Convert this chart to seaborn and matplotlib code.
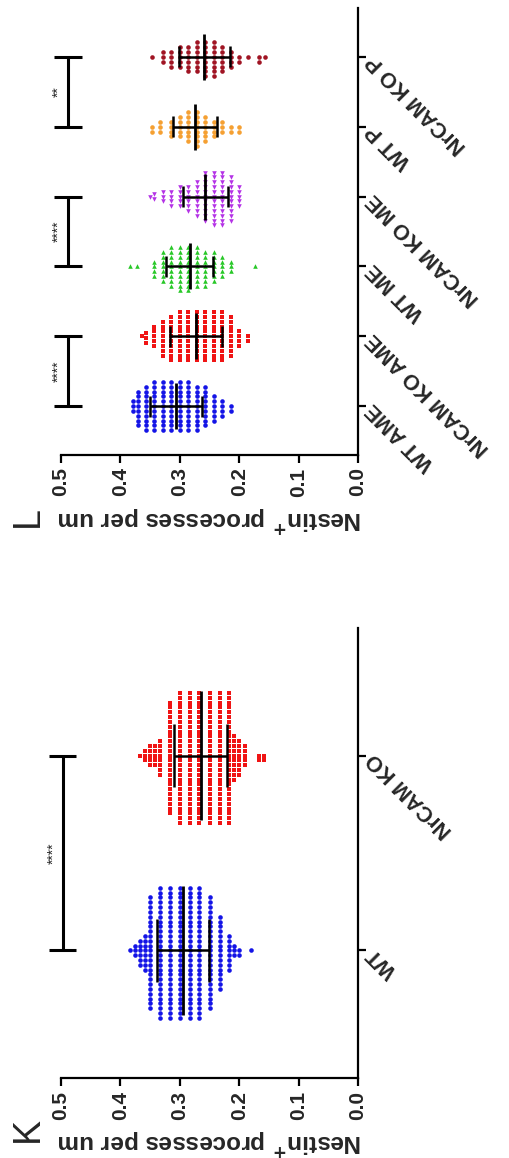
import numpy as np
import pandas as pd
import matplotlib
matplotlib.use("Agg")
import matplotlib.pyplot as plt
import seaborn as sns

# ---------------- data ----------------
# Panel K: Nestin+ processes per um, WT vs NrCAM KO (value levels and how many cells share each)
k_groups = ["WT", "NrCAM KO"]
k_wt_values = [0.383, 0.375, 0.367, 0.358, 0.350, 0.333, 0.317, 0.300, 0.283, 0.267,
               0.250, 0.233, 0.217, 0.208, 0.200, 0.180]
k_wt_counts = [1, 3, 6, 8, 24, 28, 28, 28, 28, 28, 24, 16, 8, 3, 2, 1]
k_ko_values = [0.367, 0.358, 0.350, 0.342, 0.333, 0.317, 0.300, 0.283, 0.267, 0.250,
               0.233, 0.217, 0.208, 0.200, 0.190, 0.167, 0.158]
k_ko_counts = [1, 3, 5, 5, 8, 24, 28, 28, 28, 28, 28, 28, 10, 8, 5, 2, 2]
k_stars = ["****"]

# Panel L: split by region (AME / ME / P)
l_groups = ["WT AME", "NrCAM KO AME", "WT ME", "NrCAM KO ME", "WT P", "NrCAM KO P"]
wt_ame_values = [0.379, 0.371, 0.357, 0.343, 0.329, 0.314, 0.300, 0.286, 0.271, 0.257,
                 0.243, 0.229, 0.214]
wt_ame_counts = [3, 8, 10, 11, 11, 11, 11, 11, 10, 9, 6, 4, 2]
ko_ame_values = [0.364, 0.357, 0.343, 0.329, 0.314, 0.300, 0.286, 0.271, 0.257, 0.243,
                 0.229, 0.214, 0.200, 0.186]
ko_ame_counts = [1, 3, 5, 8, 10, 11, 11, 11, 11, 11, 11, 9, 4, 2]
wt_me_values = [0.384, 0.372, 0.343, 0.329, 0.314, 0.300, 0.286, 0.271, 0.257, 0.243,
                0.229, 0.214, 0.173]
wt_me_counts = [1, 1, 4, 7, 9, 10, 10, 9, 8, 7, 5, 3, 1]
ko_me_values = [0.350, 0.343, 0.329, 0.314, 0.300, 0.286, 0.271, 0.257, 0.243, 0.229,
                0.214, 0.200]
ko_me_counts = [1, 2, 3, 4, 5, 6, 8, 11, 12, 12, 10, 5]
wt_p_values = [0.347, 0.333, 0.314, 0.300, 0.286, 0.271, 0.257, 0.243, 0.229, 0.214, 0.200]
wt_p_counts = [2, 3, 4, 5, 7, 8, 6, 4, 3, 2, 2]
ko_p_values = [0.347, 0.329, 0.314, 0.300, 0.286, 0.271, 0.257, 0.243, 0.229, 0.214,
               0.200, 0.186, 0.167, 0.157]
ko_p_counts = [1, 3, 4, 5, 6, 7, 8, 8, 6, 4, 2, 1, 2, 1]
l_stars = ["****", "****", "**"]

value_ticks = [0.0, 0.1, 0.2, 0.3, 0.4, 0.5]
value_label = "Nestin$^{\\mathbf{+}}$ processes per um"


def expand(group, values, counts):
    return pd.DataFrame({"group": group, "value": np.repeat(values, counts)})


k_df = pd.concat([expand("WT", k_wt_values, k_wt_counts),
                  expand("NrCAM KO", k_ko_values, k_ko_counts)], ignore_index=True)
l_df = pd.concat([expand("WT AME", wt_ame_values, wt_ame_counts),
                  expand("NrCAM KO AME", ko_ame_values, ko_ame_counts),
                  expand("WT ME", wt_me_values, wt_me_counts),
                  expand("NrCAM KO ME", ko_me_values, ko_me_counts),
                  expand("WT P", wt_p_values, wt_p_counts),
                  expand("NrCAM KO P", ko_p_values, ko_p_counts)], ignore_index=True)

# ---------------- style ----------------
sns.set_theme(style="white")
plt.rcParams["font.family"] = ["Liberation Sans", "DejaVu Sans"]

group_style = {
    "WT": ("#1414E6", "o"),
    "NrCAM KO": ("#F01414", "s"),
    "WT AME": ("#1414E6", "o"),
    "NrCAM KO AME": ("#F01414", "s"),
    "WT ME": ("#28C828", "^"),
    "NrCAM KO ME": ("#B432E6", "v"),
    "WT P": ("#F5A032", "o"),
    "NrCAM KO P": ("#A01423", "o"),
}

fig = plt.figure(figsize=(5.1, 11.58), dpi=100)
W, H = 510.0, 1158.0
ax_l = fig.add_axes([61 / W, 1 - 455 / H, 297 / W, 447 / H])
ax_k = fig.add_axes([61 / W, 1 - 1078 / H, 297 / W, 450 / H])


def draw_panel(ax, df, groups, pad, cap_half, stars, bracket_x):
    for g in groups:
        color, marker = group_style[g]
        sns.swarmplot(data=df[df["group"] == g], x="value", y="group", order=groups,
                      orient="h", color=color, marker=marker, size=3.3, linewidth=0,
                      warn_thresh=1, ax=ax)

    # mean line with SD whiskers
    stats = df.groupby("group")["value"].agg(["mean", "std"])
    for i, g in enumerate(groups):
        m, sd = stats.loc[g, "mean"], stats.loc[g, "std"]
        ax.vlines(m, i - 0.33, i + 0.33, color="black", lw=2, zorder=6)
        ax.hlines(i, m - sd, m + sd, color="black", lw=1.8, zorder=6)
        ax.vlines([m - sd, m + sd], i - cap_half, i + cap_half, color="black",
                  lw=1.8, zorder=6)

    # significance brackets between neighbouring WT / KO columns
    for j, s in enumerate(stars):
        a, b = 2 * j, 2 * j + 1
        ax.plot([bracket_x, bracket_x], [a, b], color="black", lw=2.2,
                clip_on=False, solid_capstyle="butt")
        for y in (a, b):
            ax.plot([bracket_x + 0.023, bracket_x - 0.023], [y, y], color="black",
                    lw=2.2, clip_on=False, solid_capstyle="butt")
        ax.text(bracket_x + 0.004, (a + b) / 2, s, rotation=90, ha="right",
                va="center", fontsize=10, clip_on=False)

    ax.set_xlim(0.5, 0.0)
    ax.set_ylim(-pad, len(groups) - 1 + pad)

    for side in ("top", "left"):
        ax.spines[side].set_visible(False)
    for side in ("right", "bottom"):
        ax.spines[side].set_color("black")
        ax.spines[side].set_linewidth(1.6)

    ax.yaxis.tick_right()
    ax.tick_params(axis="y", which="both", left=False, right=True, length=6,
                   width=1.6, color="black", direction="out", pad=3)
    ax.tick_params(axis="x", which="both", bottom=True, length=6, width=1.6,
                   color="black", direction="out", pad=3)
    ax.set_yticks(range(len(groups)), labels=groups, rotation=135,
                  rotation_mode="anchor", ha="right", va="center",
                  fontsize=15.5, fontweight="bold")
    ax.set_xticks(value_ticks, labels=[f"{v:.1f}" for v in value_ticks],
                  rotation=90, fontsize=15, fontweight="bold")
    ax.set_ylabel("")
    ax.set_xlabel(value_label, rotation=180, fontsize=17.5, fontweight="bold",
                  labelpad=6)
    ax.grid(False)


draw_panel(ax_l, l_df, l_groups, pad=0.7, cap_half=0.15, stars=l_stars, bracket_x=0.488)
draw_panel(ax_k, k_df, k_groups, pad=0.655, cap_half=0.16, stars=k_stars, bracket_x=0.497)

fig.text(28 / W, 1 - 517 / H, "L", rotation=90, fontsize=27, ha="center", va="center")
fig.text(28 / W, 1 - 1130 / H, "K", rotation=90, fontsize=27, ha="center", va="center")

fig.savefig("out.png", dpi=100, facecolor="white")
